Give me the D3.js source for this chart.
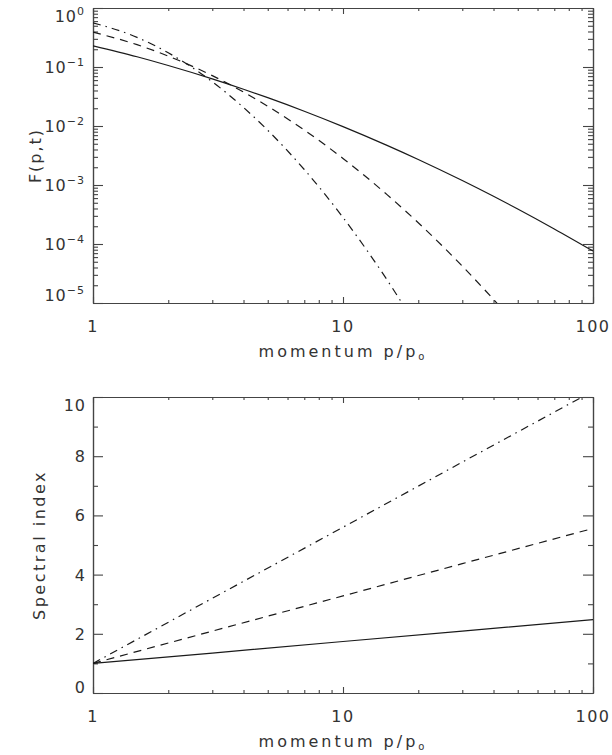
<!doctype html>
<meta charset="utf-8">
<title>F(p,t) and spectral index</title>
<script src="https://cdn.jsdelivr.net/npm/d3@7/dist/d3.min.js"></script>
<body style="margin:0;background:#fff">
<script>
// momentum samples
var momentum = [1, 1.5, 2, 3, 4, 5, 7, 10, 15, 20, 30, 40, 50, 70, 100];
var fSolid   = [0.229, 0.149, 0.106, 0.0629, 0.042, 0.0302, 0.0178, 0.00977, 0.0047, 0.00271, 0.00119, 6.43e-4, 3.92e-4, 1.8e-4, 7.6e-5];
var fDashed  = [0.389, 0.239, 0.153, 0.0714, 0.0376, 0.0216, 0.00852, 0.00282, 6.87e-4, 2.29e-4, 4.22e-5, 1.15e-5, 3.98e-6];
var fDashDot = [0.562, 0.318, 0.174, 0.0562, 0.0206, 0.00846, 0.00183, 2.82e-4, 2.47e-5, 3.6e-6];

// lower panel: spectral index
var momentumIdx = [1, 3, 10, 30, 100];
var idxSolid    = [1, 1.35, 1.74, 2.09, 2.48];
var idxDashed   = [1, 2.09, 3.28, 4.37, 5.56];
var idxDashDot  = [1, 3.2, 5.6, 7.8, 10.2];

var xTicks = [1, 10, 100];
var xTickLabels = ["1", "10", "100"];
var xMinor = [2, 3, 4, 5, 6, 7, 8, 9, 20, 30, 40, 50, 60, 70, 80, 90];
var fExponents = [0, -1, -2, -3, -4, -5];
var idxTicks = [0, 2, 4, 6, 8, 10];
var idxMinor = [1, 3, 5, 7, 9];

var width = 612, height = 755;
var L = 93, R = 593;
var axisCol = "#444", inkCol = "#1a1a1a", textCol = "#333";
var font = "DejaVu Sans, sans-serif";

var svg = d3.select("body").append("svg")
  .attr("width", width)
  .attr("height", height);

var x = d3.scaleLog().domain([1, 100]).range([L, R]);
var yF = d3.scaleLog().domain([1e-5, 1]).range([303, 8]);
var yS = d3.scaleLinear().domain([0, 10]).range([693, 397]);

var fMinor = [];
fExponents.slice(1).forEach(function(e) {
  for (var k = 2; k <= 9; k++) fMinor.push(k * Math.pow(10, e));
});

function styleAxis(g) {
  g.selectAll("path.domain").attr("stroke", axisCol).attr("stroke-width", 1.2);
  g.selectAll(".tick line").attr("stroke", axisCol).attr("stroke-width", 1.1);
  g.selectAll(".tick text").remove();
}

function frame(y, top, bottom, yMajor, yMinor) {
  var g = svg.append("g");
  // x axes (bottom + top), ticks pointing inward
  g.append("g").attr("transform", "translate(0," + bottom + ")")
    .call(d3.axisBottom(x).tickValues(xTicks).tickSize(-6).tickSizeOuter(0)).call(styleAxis);
  g.append("g").attr("transform", "translate(0," + bottom + ")")
    .call(d3.axisBottom(x).tickValues(xMinor).tickSize(-3).tickSizeOuter(0)).call(styleAxis);
  g.append("g").attr("transform", "translate(0," + top + ")")
    .call(d3.axisTop(x).tickValues(xTicks).tickSize(-6).tickSizeOuter(0)).call(styleAxis);
  g.append("g").attr("transform", "translate(0," + top + ")")
    .call(d3.axisTop(x).tickValues(xMinor).tickSize(-3).tickSizeOuter(0)).call(styleAxis);
  // y axes (left + right)
  g.append("g").attr("transform", "translate(" + L + ",0)")
    .call(d3.axisLeft(y).tickValues(yMajor).tickSize(-10).tickSizeOuter(0)).call(styleAxis);
  g.append("g").attr("transform", "translate(" + L + ",0)")
    .call(d3.axisLeft(y).tickValues(yMinor).tickSize(-5).tickSizeOuter(0)).call(styleAxis);
  g.append("g").attr("transform", "translate(" + R + ",0)")
    .call(d3.axisRight(y).tickValues(yMajor).tickSize(-10).tickSizeOuter(0)).call(styleAxis);
  g.append("g").attr("transform", "translate(" + R + ",0)")
    .call(d3.axisRight(y).tickValues(yMinor).tickSize(-5).tickSizeOuter(0)).call(styleAxis);

  // x tick labels
  g.selectAll("text.xl").data(xTicks).enter().append("text")
    .attr("class", "xl")
    .attr("x", function(d) { return x(d); })
    .attr("y", bottom + 29)
    .attr("text-anchor", "middle")
    .attr("font-family", font).attr("font-size", 16).attr("fill", textCol)
    .attr("letter-spacing", 1.5)
    .text(function(d, i) { return xTickLabels[i]; });

  // x title
  var t = g.append("text")
    .attr("x", 343).attr("y", bottom + 54)
    .attr("text-anchor", "middle")
    .attr("font-family", font).attr("font-size", 16).attr("fill", textCol)
    .attr("letter-spacing", 3);
  t.append("tspan").text("momentum p/p");
  t.append("tspan").attr("font-size", 10).attr("dy", 3).text("o");

  var clipId = "clip" + top;
  svg.append("clipPath").attr("id", clipId).append("rect")
    .attr("x", L).attr("y", top).attr("width", R - L).attr("height", bottom - top);
  return clipId;
}

function labelY(v, y, top, bottom) {
  var yy = y(v) + 6;
  return Math.min(Math.max(yy, top + 14), bottom);
}

// ---- upper panel ----
var clip1 = frame(yF, 8, 303, fExponents.map(function(e) { return Math.pow(10, e); }), fMinor);

fExponents.forEach(function(e) {
  var t = svg.append("text")
    .attr("x", 85)
    .attr("y", labelY(Math.pow(10, e), yF, 8, 301))
    .attr("text-anchor", "end")
    .attr("font-family", font).attr("font-size", 16).attr("fill", textCol)
    .attr("letter-spacing", 1);
  t.append("tspan").text("10");
  t.append("tspan").attr("font-size", 11).attr("dy", -7)
    .text(e === 0 ? "0" : "\u2212" + (-e));
});

svg.append("text")
  .attr("transform", "translate(41,155.5) rotate(-90)")
  .attr("text-anchor", "middle")
  .attr("font-family", font).attr("font-size", 16).attr("fill", textCol)
  .attr("letter-spacing", 2)
  .text("F(p,t)");

var lineF = d3.line()
  .x(function(d) { return x(d[0]); })
  .y(function(d) { return yF(d[1]); })
  .curve(d3.curveMonotoneX);

var seriesF = [
  { v: fSolid, dash: null },
  { v: fDashed, dash: "8,6" },
  { v: fDashDot, dash: "8,5,1.5,5" }
];
seriesF.forEach(function(s) {
  svg.append("path")
    .datum(s.v.map(function(v, i) { return [momentum[i], v]; }))
    .attr("clip-path", "url(#" + clip1 + ")")
    .attr("fill", "none")
    .attr("stroke", inkCol).attr("stroke-width", 1.2)
    .attr("stroke-dasharray", s.dash)
    .attr("d", lineF);
});

// ---- lower panel ----
var clip2 = frame(yS, 397, 693, idxTicks, idxMinor);

idxTicks.forEach(function(v) {
  svg.append("text")
    .attr("x", 86)
    .attr("y", labelY(v, yS, 397, 693))
    .attr("text-anchor", "end")
    .attr("font-family", font).attr("font-size", 16).attr("fill", textCol)
    .attr("letter-spacing", 1)
    .text(v);
});

svg.append("text")
  .attr("transform", "translate(45,545) rotate(-90)")
  .attr("text-anchor", "middle")
  .attr("font-family", font).attr("font-size", 16).attr("fill", textCol)
  .attr("letter-spacing", 2.5)
  .text("Spectral index");

var lineS = d3.line()
  .x(function(d) { return x(d[0]); })
  .y(function(d) { return yS(d[1]); });

[
  { v: idxSolid, dash: null },
  { v: idxDashed, dash: "8,6" },
  { v: idxDashDot, dash: "8,5,1.5,5" }
].forEach(function(s) {
  svg.append("path")
    .datum(s.v.map(function(v, i) { return [momentumIdx[i], v]; }))
    .attr("clip-path", "url(#" + clip2 + ")")
    .attr("fill", "none")
    .attr("stroke", inkCol).attr("stroke-width", 1.2)
    .attr("stroke-dasharray", s.dash)
    .attr("d", lineS);
});
</script>
</body>
